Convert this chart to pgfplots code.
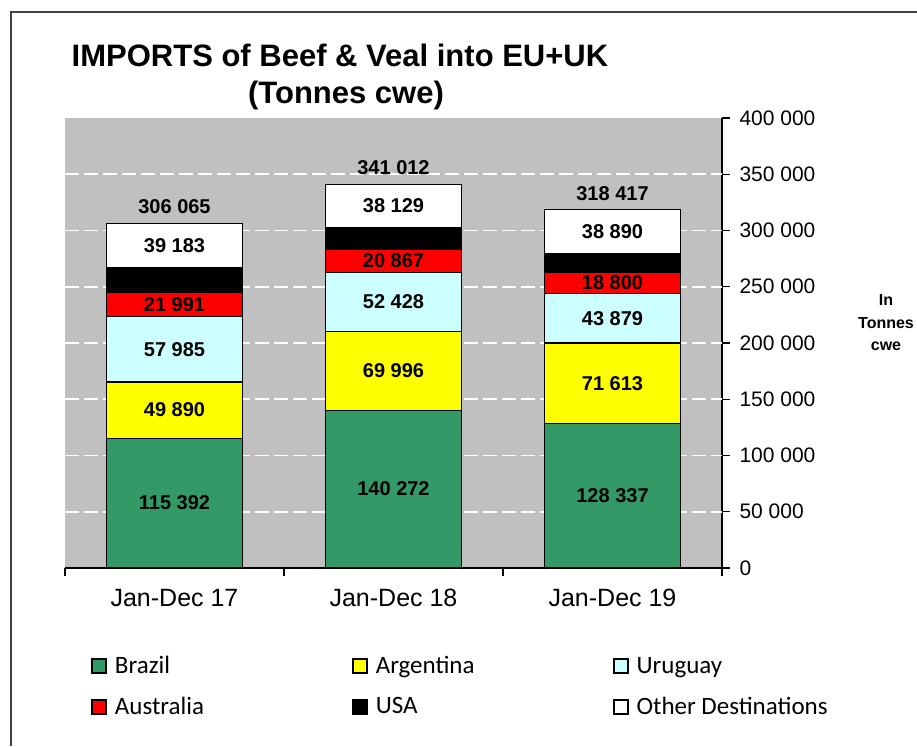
\documentclass[border=0pt]{standalone}
\usepackage{pgfplots}
\pgfplotsset{compat=1.18}
\usepackage{pgfplotstable}
\usepackage{fontspec}
\setmainfont{Liberation Sans}
\newfontfamily\calib{Carlito}
\definecolor{brz}{HTML}{339966}
\definecolor{arg}{HTML}{FFFF00}
\definecolor{uru}{HTML}{CCFFFF}
\definecolor{aus}{HTML}{FF0000}
\definecolor{usa}{HTML}{000000}
\definecolor{oth}{HTML}{FFFFFF}
\definecolor{bg}{HTML}{C0C0C0}
\pgfplotstableread{
x Brazil Argentina Uruguay Australia USA Other Total
0 115392 49890 57985 21991 21624 39183 306065
1 140272 69996 52428 20867 19320 38129 341012
2 128337 71613 43879 18800 16898 38890 318417
}\data
\pgfkeys{/pgf/number format/assume math mode=true}
\begin{document}
\begin{tikzpicture}
\useasboundingbox (0pt,0pt) rectangle (917pt,746pt);
\fill[white] (0pt,0pt) rectangle (917pt,746pt);
\draw[line width=2pt, black!75] (11pt,0pt) -- (11pt,734pt) -- (917pt,734pt);
\begin{axis}[
  at={(65pt,178pt)}, anchor=south west,
  scale only axis, width=657pt, height=450pt,
  xmin=-0.5, xmax=2.5, ymin=0, ymax=400000,
  ybar stacked, bar width=0.62,
  axis background/.style={fill=bg},
  axis x line*=bottom, axis y line*=right,
  axis line style={black, line width=1.3pt},
  every tick/.style={black, line width=1.3pt},
  major tick length=8pt,
  tick align=outside,
  xtick={-0.5,0.5,1.5,2.5}, xticklabels={},
  extra x ticks={0,1,2},
  extra x tick labels={Jan-Dec 17,Jan-Dec 18,Jan-Dec 19},
  extra x tick style={major tick length=0pt, grid=none,
    xticklabel style={font=\fontsize{25}{25}\selectfont, yshift=-18pt}},
  ytick={0,50000,...,400000},
  scaled y ticks=false,
  yticklabel style={font=\fontsize{21}{21}\selectfont, xshift=6pt,
    /pgf/number format/.cd, fixed, precision=0, 1000 sep={\ }},
  extra y ticks={50000,100000,...,350000},
  extra y tick labels={},
  extra y tick style={major tick length=0pt, grid=major,
    major grid style={white, line width=1.6pt, dash pattern=on 14pt off 5pt}},
  legend columns=3,
  legend cell align=left,
  legend style={draw=none, fill=none, at={(0.035,-0.187)}, anchor=north west,
    font=\calib\fontsize{25}{25}\selectfont,
    /tikz/every odd column/.style={column sep=6pt},
    row sep=18pt},
  legend image code/.code={\draw[#1, line width=1.8pt, draw=black] (0pt,-7pt) rectangle (14pt,7pt);},
]
\addplot[fill=brz, draw=black, line width=1.3pt] table[x=x,y=Brazil]{\data};
\addlegendentry{\makebox[235pt][l]{Brazil}}
\addplot[fill=arg, draw=black, line width=1.3pt] table[x=x,y=Argentina]{\data};
\addlegendentry{\makebox[235pt][l]{Argentina}}
\addplot[fill=uru, draw=black, line width=1.3pt] table[x=x,y=Uruguay]{\data};
\addlegendentry{\makebox[235pt][l]{Uruguay}}
\addplot[fill=aus, draw=black, line width=1.3pt] table[x=x,y=Australia]{\data};
\addlegendentry{\makebox[235pt][l]{Australia}}
\addplot[fill=usa, draw=black, line width=1.3pt] table[x=x,y=USA]{\data};
\addlegendentry{\makebox[235pt][l]{USA}}
\addplot[fill=oth, draw=black, line width=1.3pt] table[x=x,y=Other]{\data};
\addlegendentry{\makebox[235pt][l]{Other Destinations}}
\end{axis}
\begin{axis}[
  at={(65pt,178pt)}, anchor=south west,
  scale only axis, width=657pt, height=450pt,
  xmin=-0.5, xmax=2.5, ymin=0, ymax=400000,
  hide axis, clip=false,
  nodes near coords={\pgfmathprintnumber[fixed,precision=0,1000 sep={\ }]{\pgfplotspointmeta}},
  every node near coord/.append style={font=\bfseries\fontsize{20}{20}\selectfont, anchor=center, text=black},
]
\addplot[only marks, mark=text, text mark={}, point meta=explicit] table[x=x, y expr=\thisrow{Brazil}/2, meta=Brazil]{\data};
\addplot[only marks, mark=text, text mark={}, point meta=explicit] table[x=x, y expr=\thisrow{Brazil}+\thisrow{Argentina}/2, meta=Argentina]{\data};
\addplot[only marks, mark=text, text mark={}, point meta=explicit] table[x=x, y expr=\thisrow{Brazil}+\thisrow{Argentina}+\thisrow{Uruguay}/2, meta=Uruguay]{\data};
\addplot[only marks, mark=text, text mark={}, point meta=explicit] table[x=x, y expr=\thisrow{Brazil}+\thisrow{Argentina}+\thisrow{Uruguay}+\thisrow{Australia}/2, meta=Australia]{\data};
\addplot[only marks, mark=text, text mark={}, point meta=explicit] table[x=x, y expr=\thisrow{Brazil}+\thisrow{Argentina}+\thisrow{Uruguay}+\thisrow{Australia}+\thisrow{USA}+\thisrow{Other}/2, meta=Other]{\data};
\addplot[only marks, mark=text, text mark={}, point meta=explicit, every node near coord/.append style={anchor=south, yshift=6pt}] table[x=x, y=Total, meta=Total]{\data};
\end{axis}
\node[anchor=base, font=\bfseries\fontsize{31}{31}\selectfont] at (340pt,679pt) {IMPORTS of Beef \& Veal into EU+UK};
\node[anchor=base, font=\bfseries\fontsize{31}{31}\selectfont] at (346pt,642pt) {(Tonnes cwe)};
\node[anchor=base, font=\bfseries\fontsize{16}{16}\selectfont] at (886pt,440pt) {In};
\node[anchor=base, font=\bfseries\fontsize{16}{16}\selectfont] at (886pt,417pt) {Tonnes};
\node[anchor=base, font=\bfseries\fontsize{16}{16}\selectfont] at (886pt,395pt) {cwe};
\end{tikzpicture}
\end{document}
